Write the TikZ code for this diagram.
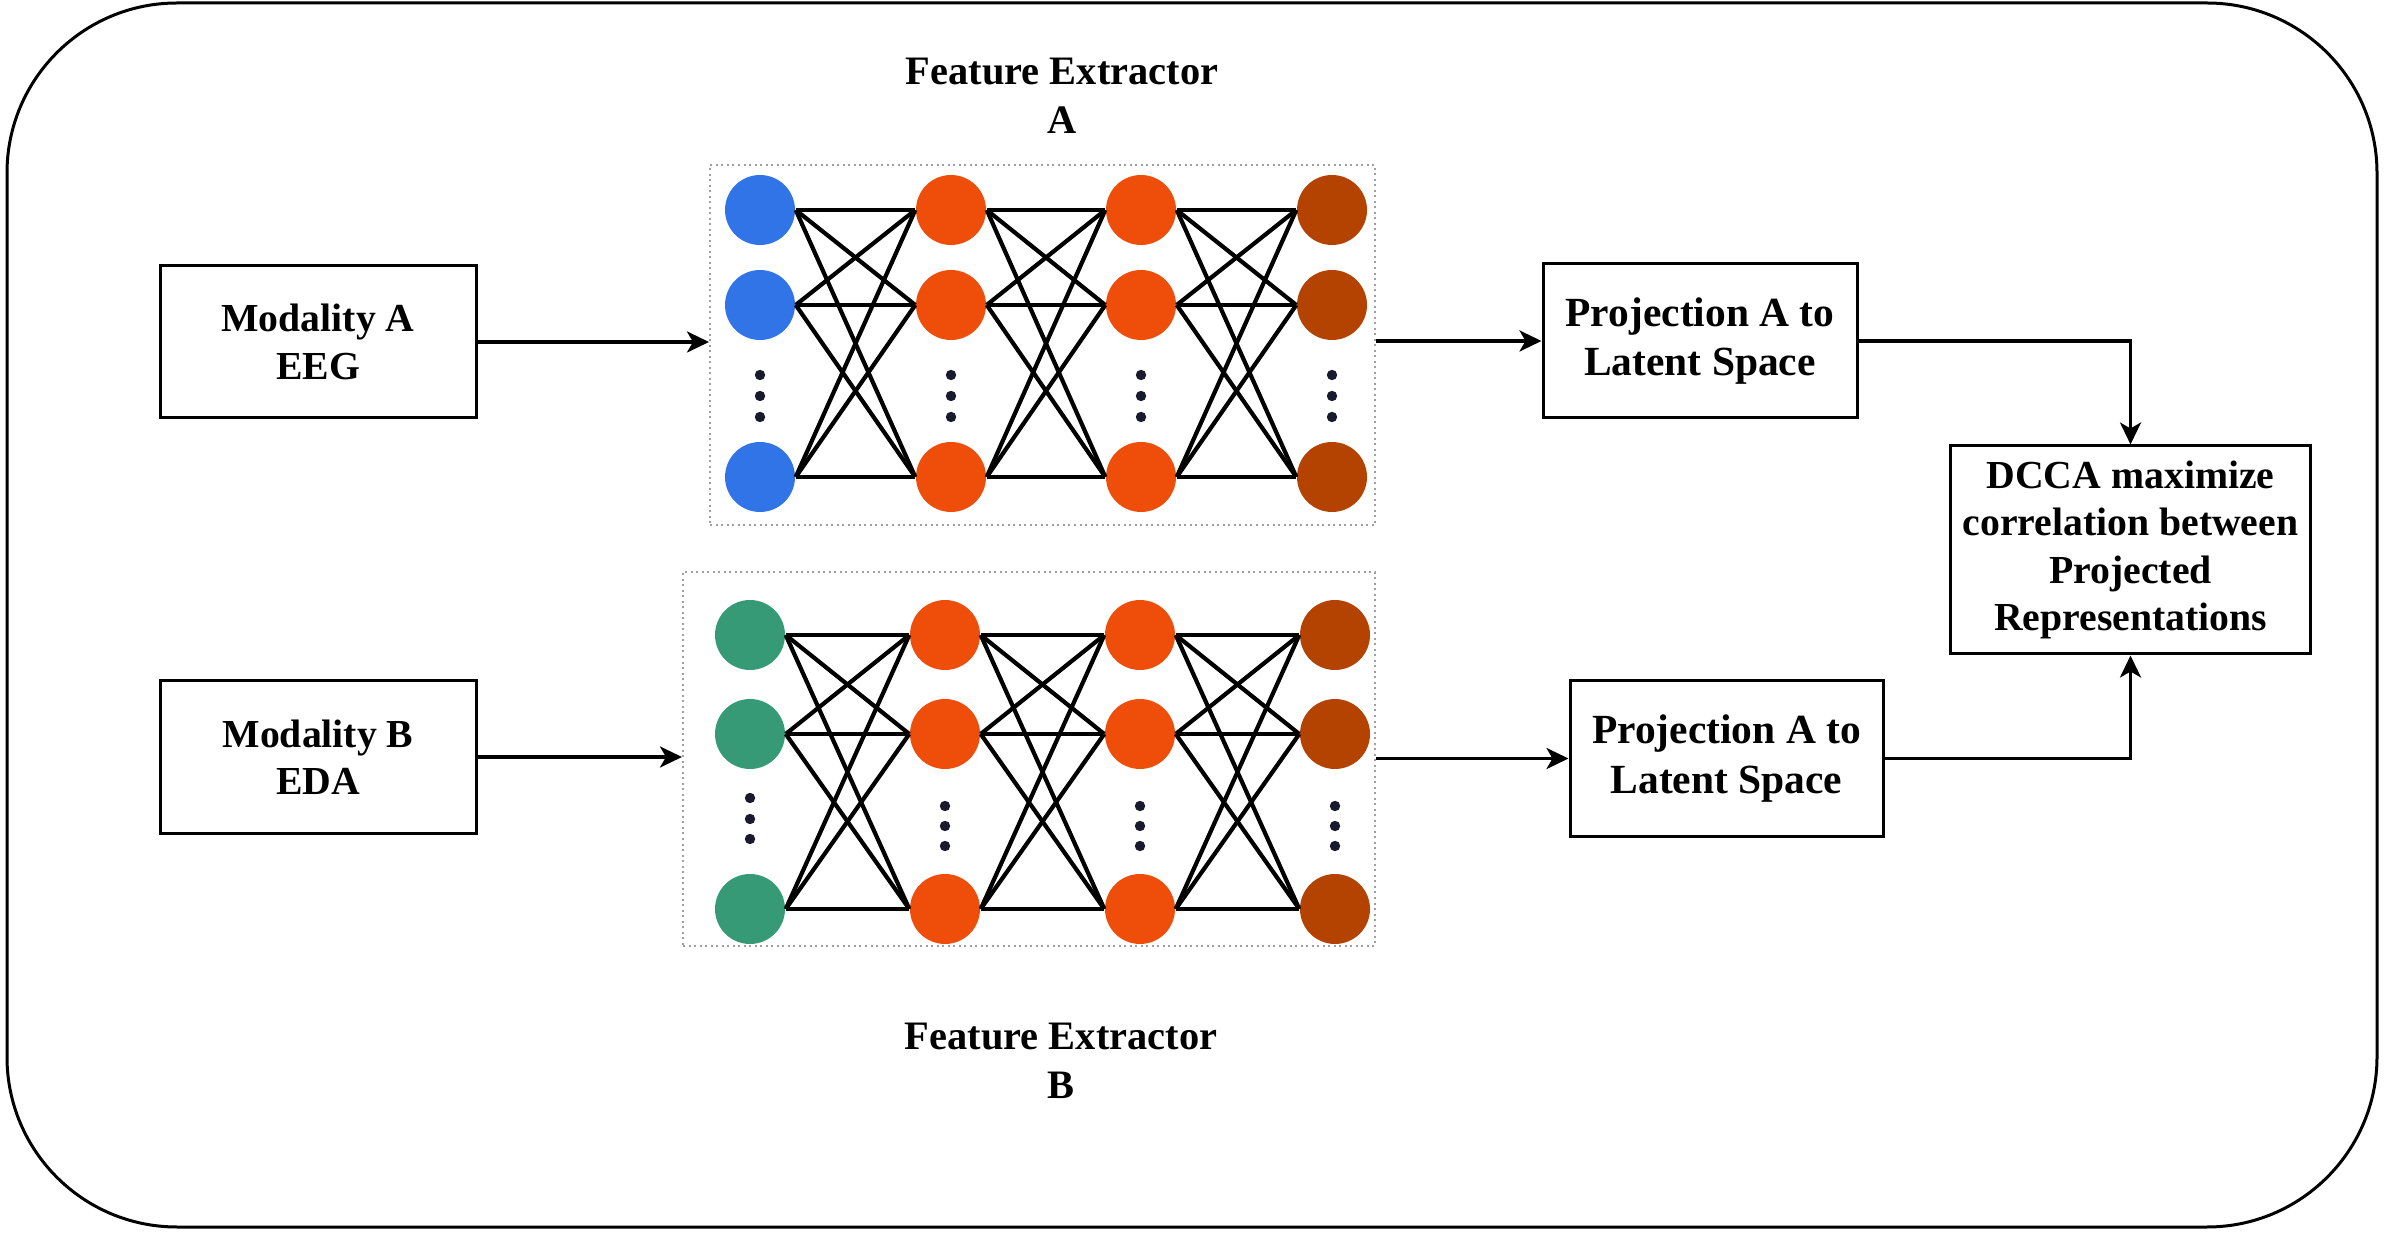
\documentclass[tikz,border=0pt]{standalone}
\usepackage{fontspec}
\setmainfont{Liberation Serif}
\usepackage{xcolor}
\definecolor{NeuronBlue}{HTML}{3074E8}
\definecolor{NeuronOrange}{HTML}{EE4E09}
\definecolor{NeuronBrown}{HTML}{B44302}
\definecolor{NeuronGreen}{HTML}{379A77}
\definecolor{DotInk}{HTML}{1A1A2E}
\usepackage{tikz}
\usetikzlibrary{arrows.meta,positioning,calc}

\begin{document}
\begin{tikzpicture}[
  box/.style={draw,line width=0.03cm,align=center,font=\fontsize{11.3}{13.5}\selectfont\bfseries},
  lbl/.style={align=center,inner sep=0pt,font=\fontsize{11.5}{13.8}\selectfont\bfseries},
  netframe/.style={draw=gray!75,densely dotted,line width=0.02cm},
  neuron/.style={circle,minimum size=0.7cm,inner sep=0pt},
  link/.style={line width=0.042cm,black},
  arr/.style={-{Stealth[length=0.22cm,width=0.21cm,inset=0.06cm]},line width=0.033cm}
]
  \useasboundingbox (0,0) rectangle (23.84,12.32);
  \draw[line width=0.03cm,rounded corners=1.7cm] (0.07,0.05) rectangle (23.77,12.29);

  % inputs
  \node[box,minimum width=3.16cm,minimum height=1.52cm] (modA) at (3.18,8.90) {Modality A\\EEG};
  \node[box,minimum width=3.16cm,minimum height=1.52cm] (modB) at (3.18,4.75) {Modality B\\EDA};

  % feature extractors
  \node[netframe,minimum width=6.65cm,minimum height=3.60cm] (netA) at (10.425,8.87) {};
  \node[netframe,minimum width=6.92cm,minimum height=3.74cm] (netB) at (10.29,4.73) {};
  \node[lbl] (fxA) at (10.62,11.36) {Feature Extractor\\A};
  \node[lbl] (fxB) at (10.61,1.71) {Feature Extractor\\B};

  \foreach \c/\x/\col in {1/7.60/NeuronBlue,2/9.51/NeuronOrange,3/11.41/NeuronOrange,4/13.32/NeuronBrown}
    \foreach \r/\y in {1/10.22,2/9.27,3/7.55}
      \node[neuron,fill=\col] (a\c\r) at (\x,\y) {};
  \foreach \c/\x/\col in {1/7.50/NeuronGreen,2/9.45/NeuronOrange,3/11.40/NeuronOrange,4/13.35/NeuronBrown}
    \foreach \r/\y in {1/5.97,2/4.98,3/3.23}
      \node[neuron,fill=\col] (b\c\r) at (\x,\y) {};

  \foreach \c/\n in {1/2,2/3,3/4}
    \foreach \i in {1,2,3}
      \foreach \j in {1,2,3} {
        \draw[link] (a\c\i.east) -- (a\n\j.west);
        \draw[link] (b\c\i.east) -- (b\n\j.west);
      }

  % ellipsis dots
  \foreach \x in {7.60,9.51,11.41,13.32}
    \foreach \y in {8.57,8.36,8.15}
      \fill[DotInk] (\x,\y) circle (0.052);
  \foreach \y in {4.34,4.13,3.93}
    \fill[DotInk] (7.50,\y) circle (0.052);
  \foreach \x in {9.45,11.40,13.35}
    \foreach \y in {4.26,4.06,3.86}
      \fill[DotInk] (\x,\y) circle (0.052);

  % projections and DCCA
  \node[box,minimum width=3.14cm,minimum height=1.54cm,font=\fontsize{11.8}{14}\selectfont\bfseries] (projA) at (17.00,8.91) {Projection A to\\Latent Space};
  \node[box,minimum width=3.13cm,minimum height=1.55cm,font=\fontsize{11.8}{14}\selectfont\bfseries] (projB) at (17.265,4.735) {Projection A to\\Latent Space};
  \node[box,minimum width=3.39cm,minimum height=2.08cm] (dcca) at (21.305,6.82) {DCCA maximize\\correlation between\\Projected\\Representations};

  \draw[arr] (modA.east) -- (modA.east -| netA.west);
  \draw[arr] (modB.east) -- (modB.east -| netB.west);
  \draw[arr] (projA.west -| netA.east) -- (projA.west);
  \draw[arr] (projB.west -| netB.east) -- (projB.west);
  \draw[arr] (projA.east) -| (dcca.north);
  \draw[arr] (projB.east) -| (dcca.south);
\end{tikzpicture}
\end{document}
